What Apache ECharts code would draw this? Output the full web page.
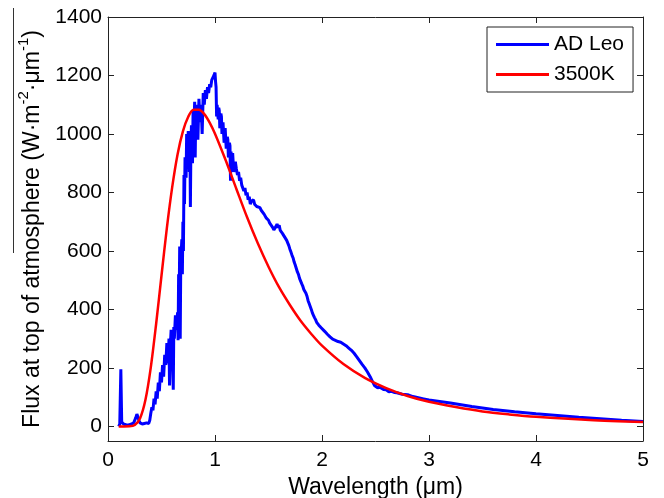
<!DOCTYPE html>
<html>
<head>
<meta charset="utf-8">
<script src="https://cdn.jsdelivr.net/npm/echarts@6/dist/echarts.min.js"></script>
<style>
html,body{margin:0;padding:0;background:#fff;}
#chart{width:664px;height:498px;}
</style>
</head>
<body>
<div id="chart"></div>
<script>
// AD Leo observed spectrum: [wavelength (µm), flux (W·m^-2·µm^-1)]
var leoSpectrum = [
[0.100,0],[0.110,8],[0.118,5],[0.120,195],[0.126,195],[0.128,15],[0.135,18],[0.145,8],[0.160,5],[0.180,4],
[0.200,6],[0.220,8],[0.240,12],[0.260,30],[0.270,42],[0.285,45],[0.290,20],[0.300,12],[0.320,8],[0.340,10],
[0.360,12],[0.380,10],[0.390,20],[0.400,45],[0.410,65],[0.420,55],[0.430,95],[0.440,75],[0.450,120],[0.460,95],
[0.470,150],[0.480,120],[0.490,185],[0.500,150],[0.510,210],[0.520,170],[0.530,245],[0.540,210],[0.550,285],[0.560,215],
[0.570,300],[0.575,140],[0.580,260],[0.590,330],[0.600,260],[0.610,125],[0.615,340],[0.620,300],[0.630,380],[0.640,330],
[0.650,390],[0.655,295],[0.660,520],[0.665,430],[0.670,615],[0.675,300],[0.680,560],[0.690,640],[0.695,520],[0.700,700],
[0.705,600],[0.710,860],[0.715,760],[0.720,920],[0.730,850],[0.735,1000],[0.740,880],[0.745,960],[0.750,1010],[0.755,940],
[0.760,870],[0.765,1000],[0.770,750],[0.775,960],[0.780,1030],[0.790,900],[0.795,1080],[0.800,1000],[0.810,1110],[0.815,920],
[0.820,1060],[0.830,1100],[0.840,980],[0.850,1120],[0.860,1040],[0.870,1100],[0.880,1000],[0.890,1140],[0.900,1100],[0.910,1150],
[0.920,1120],[0.930,1160],[0.940,1140],[0.950,1170],[0.960,1160],[0.970,1185],[0.980,1180],[0.990,1200],[1.000,1210],[1.005,1180],
[1.010,1160],[1.015,1060],[1.020,1100],[1.025,1070],[1.030,1050],[1.035,1090],[1.040,1080],[1.045,1020],[1.050,1030],[1.055,1070],
[1.060,1060],[1.065,1000],[1.070,1000],[1.075,1040],[1.080,1040],[1.085,970],[1.090,980],[1.095,1020],[1.100,1020],[1.105,950],
[1.110,960],[1.115,990],[1.120,980],[1.125,920],[1.130,930],[1.135,970],[1.140,960],[1.145,840],[1.150,940],[1.155,890],
[1.160,900],[1.165,935],[1.170,930],[1.175,870],[1.180,880],[1.190,905],[1.200,880],[1.210,860],[1.220,870],[1.230,840],
[1.240,850],[1.250,825],[1.260,830],[1.270,805],[1.280,815],[1.290,790],[1.300,800],[1.310,775],[1.320,785],[1.330,760],
[1.340,770],[1.350,765],[1.360,775],[1.370,760],[1.380,765],[1.390,752],[1.400,758],[1.420,748],[1.430,740],[1.440,742],
[1.460,725],[1.470,728],[1.480,712],[1.500,705],[1.510,696],[1.520,698],[1.540,680],[1.550,672],[1.560,678],[1.570,684],
[1.580,692],[1.590,680],[1.600,688],[1.610,670],[1.620,666],[1.630,660],[1.640,662],[1.650,648],[1.660,645],[1.670,636],
[1.680,630],[1.690,618],[1.700,606],[1.710,596],[1.720,585],[1.730,576],[1.740,562],[1.750,552],[1.760,540],[1.770,528],
[1.780,520],[1.790,506],[1.800,500],[1.810,488],[1.820,480],[1.830,468],[1.840,462],[1.850,455],[1.860,445],[1.870,430],
[1.880,420],[1.890,410],[1.900,400],[1.910,388],[1.920,380],[1.930,372],[1.940,365],[1.950,356],[1.960,350],[1.970,346],
[1.980,342],[1.990,338],[2.000,335],[2.025,325],[2.050,315],[2.075,306],[2.100,298],[2.125,294],[2.150,290],[2.175,288],
[2.200,282],[2.225,276],[2.250,268],[2.275,260],[2.300,250],[2.325,238],[2.350,225],[2.375,212],[2.400,200],[2.425,186],
[2.450,170],[2.470,155],[2.480,150],[2.490,140],[2.500,138],[2.520,132],[2.540,134],[2.550,128],[2.575,126],[2.600,125],
[2.625,118],[2.650,120],[2.675,116],[2.700,115],[2.750,110],[2.800,108],[2.850,102],[2.900,98],[2.950,94],[3.000,90],
[3.200,80],[3.400,68],[3.600,58],[3.800,50],[4.000,43],[4.200,37],[4.400,31],[4.600,26],[4.800,21],[5.000,17]
];

// 3500 K blackbody curve
var bbWavelength = [0.10,0.15,0.20,0.25,0.30,0.35,0.40,0.45,0.50,0.55,0.60,0.65,0.70,0.75,0.80,0.85,0.90,0.95,1.00,1.10,1.20,1.30,1.40,1.50,1.60,1.70,1.80,1.90,2.00,2.20,2.40,2.60,2.80,3.00,3.25,3.50,3.75,4.00,4.50,5.00];
var bbFlux = [0,0,0.2,4.5,28,91,202,351,516,678,818,930,1009,1059,1083,1083,1068,1039,1001,910,812,715,626,546,475,415,361,316,276,213,166,131,104,84,66,51,41,33,22,15];

var xTicks = [0,1,2,3,4,5];
var yTicks = [0,200,400,600,800,1000,1200,1400];
var seriesNames = ['AD Leo','3500K'];

function zip(a,b){var r=[];for(var i=0;i<a.length;i++){r.push([a[i],b[i]]);}return r;}

var chart = echarts.init(document.getElementById('chart'), null, {renderer:'canvas'});
var font = 'Liberation Sans, Arial, Helvetica, sans-serif';
var axisCol = '#222';
var tickStyle = {show:true, inside:true, length:6, lineStyle:{color:axisCol, width:1}};

chart.setOption({
  animation:false,
  backgroundColor:'#fff',
  textStyle:{fontFamily:font},
  grid:{left:108, right:21, top:17, bottom:57, containLabel:false, outerBoundsMode:'none'},
  legend:{
    data:seriesNames,
    orient:'vertical',
    left:487, top:27,
    padding:[7,9,7,9],
    itemGap:9,
    itemWidth:53, itemHeight:3,
    icon:'rect',
    borderColor:'#222', borderWidth:1,
    backgroundColor:'#fff',
    textStyle:{fontFamily:font, fontSize:21, color:'#000'}
  },
  xAxis:[{
    type:'value', min:0, max:5, interval:1, position:'bottom',
    axisLine:{show:true, onZero:false, lineStyle:{color:axisCol, width:1}},
    axisTick:tickStyle,
    axisLabel:{fontFamily:font, fontSize:21, color:'#000', margin:9,
      customValues:xTicks, formatter:function(v){return String(v);}},
    splitLine:{show:false},
    name:'Wavelength (μm)', nameLocation:'middle', nameGap:35,
    nameTextStyle:{fontFamily:font, fontSize:23, color:'#000'}
  },{
    type:'value', min:0, max:5, interval:1, position:'top',
    axisLine:{show:true, onZero:false, lineStyle:{color:axisCol, width:1}},
    axisTick:tickStyle, axisLabel:{show:false}, splitLine:{show:false}
  }],
  yAxis:[{
    type:'value', min:-50, max:1400, position:'left',
    axisLine:{show:true, onZero:false, lineStyle:{color:axisCol, width:1}},
    axisTick:{show:true, inside:true, length:6, lineStyle:{color:axisCol, width:1}, customValues:yTicks},
    axisLabel:{fontFamily:font, fontSize:21, color:'#000', margin:6, customValues:yTicks,
      formatter:function(v){return String(v);}},
    splitLine:{show:false},
    name:'{n|Flux at top of atmosphere (W·m}{s|-2}{n|·μm}{s|-1}{n|)}',
    nameLocation:'middle', nameGap:58,
    nameTextStyle:{
      fontFamily:font, fontSize:23, color:'#000',
      rich:{
        n:{fontFamily:font, fontSize:23, color:'#000', lineHeight:28, verticalAlign:'bottom'},
        s:{fontFamily:font, fontSize:15, color:'#000', lineHeight:28, verticalAlign:'top'}
      }
    }
  },{
    type:'value', min:-50, max:1400, position:'right',
    axisLine:{show:true, onZero:false, lineStyle:{color:axisCol, width:1}},
    axisTick:{show:true, inside:true, length:6, lineStyle:{color:axisCol, width:1}, customValues:yTicks},
    axisLabel:{show:false}, splitLine:{show:false}
  }],
  graphic:[{
    type:'line', shape:{x1:13.5, y1:8, x2:13.5, y2:253},
    style:{stroke:'#333', lineWidth:1}, silent:true
  }],
  series:[{
    name:seriesNames[0], type:'line', data:leoSpectrum,
    xAxisIndex:0, yAxisIndex:0,
    showSymbol:false, symbol:'none',
    lineStyle:{color:'#0000ff', width:3},
    itemStyle:{color:'#0000ff'},
    z:2
  },{
    name:seriesNames[1], type:'line', data:zip(bbWavelength, bbFlux),
    xAxisIndex:0, yAxisIndex:0,
    showSymbol:false, symbol:'none', smooth:0.3,
    lineStyle:{color:'#ff0000', width:2.5},
    itemStyle:{color:'#ff0000'},
    z:3
  }]
});
</script>
</body>
</html>
